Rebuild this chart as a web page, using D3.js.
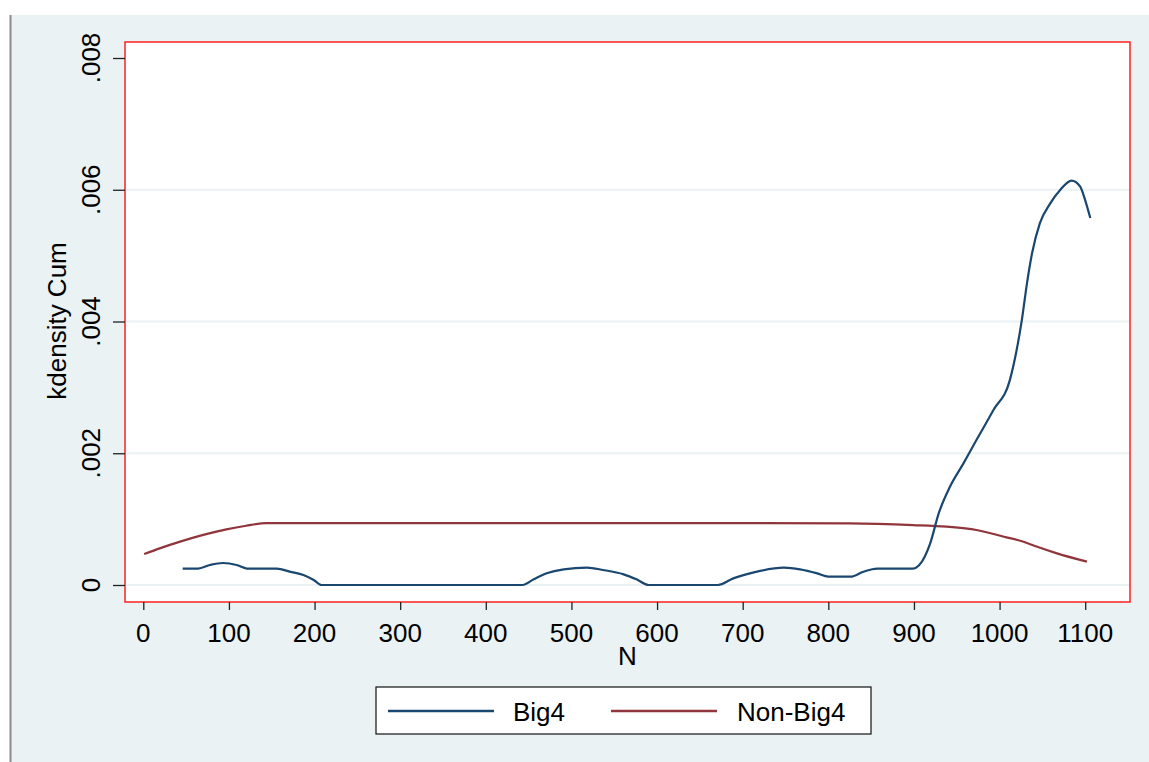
<!DOCTYPE html>
<html>
<head>
<meta charset="utf-8">
<script src="https://cdn.jsdelivr.net/npm/d3@7"></script>
<style>
html,body{margin:0;padding:0;background:#fff;}
svg{display:block;}
text{font-family:"Liberation Sans",Arial,sans-serif;fill:#000;}
</style>
</head>
<body>
<svg id="chart" width="1149" height="762"></svg>
<script>
// ---- data ----
const big4N = [46,64,78,93,109,121,156,171,187,199,208,300,443,456,471,491,518,537,561,576,590,671,689,713,748,767,787,800,826,841,857,880,899,906,919,929,942,958,973,993,1012,1020,1026,1032,1038,1047,1059,1071,1084,1094,1100,1106];
const big4Y = [0.00025,0.00025,0.000304,0.000334,0.000304,0.00025,0.00025,0.000202,0.000152,0.000076,0,0,0,0.000086,0.000177,0.000238,0.000263,0.000228,0.000162,0.000086,0,0,0.000101,0.000192,0.000263,0.000238,0.000177,0.000127,0.000127,0.000202,0.00025,0.00025,0.00025,0.00030,0.000633,0.00109,0.00149,0.00185,0.0022,0.00266,0.00311,0.00357,0.00402,0.00458,0.00504,0.00549,0.00579,0.0060,0.00614,0.00605,0.00584,0.00557];
const nonBig4N = [1,20,43,70,97,120,144,300,500,700,825,899,938,973,1005,1028,1044,1067,1102];
const nonBig4Y = [0.00047,0.00056,0.000658,0.00076,0.000845,0.0009,0.00094,0.00094,0.00094,0.00094,0.000936,0.00091,0.000885,0.000835,0.000733,0.000657,0.00058,0.00048,0.000354];
const xTicks = [0,100,200,300,400,500,600,700,800,900,1000,1100];
const yTicks = [0,0.002,0.004,0.006,0.008];
const yTickLabels = ["0",".002",".004",".006",".008"];
const seriesNames = ["Big4","Non-Big4"];
const seriesColors = ["#1a476f","#90353b"];

// ---- layout ----
const svg = d3.select("#chart");
const bg = "#eaf2f3";
const plot = {left:125, right:1130, top:42, bottom:602};
const x = d3.scaleLinear().domain([0,1100]).range([143.3,1085.2]);
const y = d3.scaleLinear().domain([0,0.008]).range([585,58]);

// outer background
svg.append("rect").attr("x",11).attr("y",15).attr("width",1149-11).attr("height",762-15).attr("fill",bg);
svg.append("line").attr("x1",10.5).attr("x2",10.5).attr("y1",15).attr("y2",762).attr("stroke","#8a8a8a").attr("stroke-width",2);

// plot region
svg.append("rect").attr("x",plot.left).attr("y",plot.top).attr("width",plot.right-plot.left).attr("height",plot.bottom-plot.top).attr("fill","#fff");

// gridlines
svg.append("g").selectAll("line").data(yTicks.slice(0,4)).join("line")
  .attr("x1",plot.left).attr("x2",plot.right)
  .attr("y1",d=>y(d)).attr("y2",d=>y(d))
  .attr("stroke",bg).attr("stroke-width",2);

// lines
const line = d3.line().x(d=>x(d[0])).y(d=>y(d[1])).curve(d3.curveMonotoneX);
const big4 = big4N.map((n,i)=>[n,big4Y[i]]);
const nonBig4 = nonBig4N.map((n,i)=>[n,nonBig4Y[i]]);
svg.append("path").datum(nonBig4).attr("d",line).attr("fill","none").attr("stroke",seriesColors[1]).attr("stroke-width",2.2);
svg.append("path").datum(big4).attr("d",line).attr("fill","none").attr("stroke",seriesColors[0]).attr("stroke-width",2.2);

// border
svg.append("rect").attr("x",plot.left).attr("y",plot.top).attr("width",plot.right-plot.left).attr("height",plot.bottom-plot.top)
  .attr("fill","none").attr("stroke","#ff2020").attr("stroke-width",1.5);

// y axis
const yAxis = d3.axisLeft(y).tickValues(yTicks).tickSize(12).tickFormat("");
const yg = svg.append("g").attr("transform",`translate(${plot.left},0)`).call(yAxis);
yg.select(".domain").remove();
yg.selectAll(".tick line").attr("stroke","#222").attr("stroke-width",1.3);
svg.append("g").selectAll("text").data(yTicks).join("text")
  .attr("transform",d=>`translate(100,${y(d)}) rotate(-90)`)
  .attr("text-anchor","middle").attr("font-size",26)
  .text((d,i)=>yTickLabels[i]);

// x axis
const xAxis = d3.axisBottom(x).tickValues(xTicks).tickSize(8).tickFormat("");
const xg = svg.append("g").attr("transform",`translate(0,${plot.bottom})`).call(xAxis);
xg.select(".domain").remove();
xg.selectAll(".tick line").attr("stroke","#222").attr("stroke-width",1.3);
svg.append("g").selectAll("text").data(xTicks).join("text")
  .attr("x",d=>x(d)).attr("y",642).attr("text-anchor","middle").attr("font-size",26)
  .text(d=>d);

// titles
svg.append("text").attr("x",(plot.left+plot.right)/2).attr("y",665).attr("text-anchor","middle").attr("font-size",26).text("N");
svg.append("text").attr("transform","translate(66,321) rotate(-90)").attr("text-anchor","middle").attr("font-size",26).text("kdensity Cum");

// legend
svg.append("rect").attr("x",376).attr("y",687).attr("width",495).attr("height",47).attr("fill","#fff").attr("stroke","#111").attr("stroke-width",1.2);
const legItems = [{lx:388,tx:513},{lx:611,tx:737}];
legItems.forEach((it,i)=>{
  svg.append("line").attr("x1",it.lx).attr("x2",it.lx+106).attr("y1",711).attr("y2",711).attr("stroke",seriesColors[i]).attr("stroke-width",2.5);
  svg.append("text").attr("x",it.tx).attr("y",721).attr("font-size",26).text(seriesNames[i]);
});
</script>
</body>
</html>
